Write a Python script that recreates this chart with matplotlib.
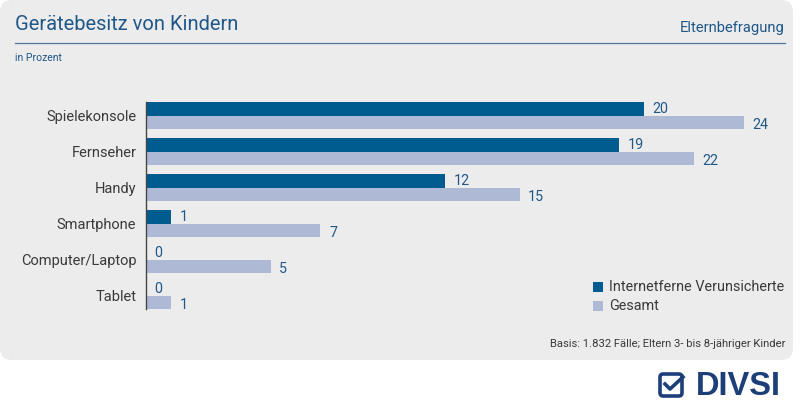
import matplotlib
matplotlib.use("Agg")
import matplotlib.pyplot as plt
from matplotlib.patches import FancyBboxPatch, Rectangle
from matplotlib.lines import Line2D
import numpy as np

categories = ["Spielekonsole", "Fernseher", "Handy", "Smartphone", "Computer/Laptop", "Tablet"]
internetferne = [20, 19, 12, 1, 0, 0]
gesamt = [24, 22, 15, 7, 5, 1]
series_names = ["Internetferne Verunsicherte", "Gesamt"]

dark = "#005b8e"
light = "#adb9d5"
text_blue = "#1f5788"
text_gray = "#3a3a3a"
panel = "#ececec"

plt.rcParams['font.family'] = ['Roboto', 'DejaVu Sans']

W, H = 800, 411
fig = plt.figure(figsize=(W / 100, H / 100), dpi=100)
fig.patch.set_facecolor("white")


def px(x, y):
    return x / W, 1 - y / H


# background panel
bg = FancyBboxPatch(px(0, 360), 793 / W, 360 / H,
                    boxstyle="round,pad=0,rounding_size=0.015",
                    transform=fig.transFigure, facecolor=panel, edgecolor="none",
                    mutation_aspect=W / H, zorder=-5)
fig.patches.append(bg)

# header
fig.text(*px(15, 24), "Gerätebesitz von Kindern", fontsize=14.5, color=text_blue,
         va="center", ha="left")
fig.text(*px(785, 28), "Elternbefragung", fontsize=10.6, color=text_blue,
         va="center", ha="right")
fig.lines.append(Line2D([15 / W, 785 / W], [1 - 43 / H, 1 - 43 / H],
                        transform=fig.transFigure, color="#50759b", lw=0.9))
fig.text(*px(15, 58), "in Prozent", fontsize=7.5, color=text_blue, va="center", ha="left")

# bars
top_px, bot_px = 102, 309
ax = fig.add_axes([146 / W, 1 - bot_px / H, (785 - 146) / W, (bot_px - top_px) / H])
ax.set_zorder(2)
ax.set_facecolor("none")
y = np.arange(len(categories))
h = 0.375
ax.barh(y - h / 2, internetferne, height=h, color=dark, edgecolor="none")
ax.barh(y + h / 2, gesamt, height=h, color=light, edgecolor="none")
ax.set_xlim(0, (785 - 146) / 24.9)
ax.set_ylim(len(categories) - 1 + h, -h)
for i in range(len(categories)):
    ax.text(internetferne[i] + 0.35, y[i] - h / 2, str(internetferne[i]), fontsize=10.3,
            color=text_blue, va="center", ha="left")
    ax.text(gesamt[i] + 0.35, y[i] + h / 2 + 0.07, str(gesamt[i]), fontsize=10.3,
            color=text_blue, va="center", ha="left")
ax.set_yticks(y)
ax.set_yticklabels(categories, fontsize=10.5, color=text_gray)
ax.tick_params(axis="y", length=0, pad=7)
ax.set_xticks([])
for s in ["top", "right", "bottom"]:
    ax.spines[s].set_visible(False)
ax.spines["left"].set_color("#444444")
ax.spines["left"].set_linewidth(1)

# legend
for k, (name, col) in enumerate(zip(series_names, [dark, light])):
    yy = 287 + 19 * k
    fig.patches.append(Rectangle(px(593, yy + 5), 10 / W, 10 / H,
                                 transform=fig.transFigure, facecolor=col, edgecolor="none"))
    fig.text(*px(609, yy), name, fontsize=10.4, color=text_gray, va="center", ha="left")

# footnote
fig.text(*px(785, 344), "Basis: 1.832 Fälle; Eltern 3- bis 8-jähriger Kinder", fontsize=8.1,
         color=text_gray, va="center", ha="right")

# DIVSI logo
navy = "#1d3f78"
fig.patches.append(FancyBboxPatch(px(660, 396), 22 / W, 22 / H,
                                  boxstyle="round,pad=0,rounding_size=0.004",
                                  transform=fig.transFigure, facecolor="none",
                                  edgecolor=navy, lw=2.6, mutation_aspect=W / H))
fig.lines.append(Line2D([665 / W, 670 / W, 683 / W], [1 - 384 / H, 1 - 389 / H, 1 - 377 / H],
                        transform=fig.transFigure, color=navy, lw=2.6))
fig.text(*px(696, 386), "DIVSI", fontsize=23.5, fontweight="bold", color=navy,
         va="center", ha="left", family=["Liberation Sans", "DejaVu Sans"])

fig.savefig("out.png", dpi=100, facecolor="white")
